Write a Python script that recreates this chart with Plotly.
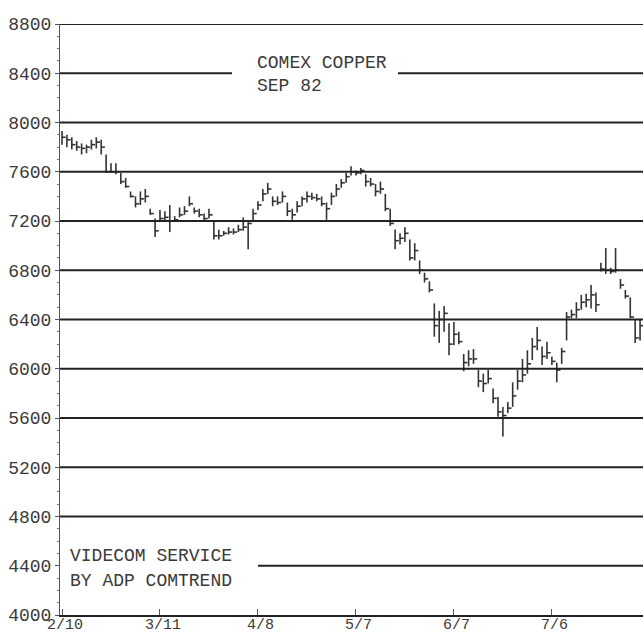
import plotly.graph_objects as go

# ---- data (daily high / low / close, COMEX copper Sep 82) ----
HIGH = [7930, 7900, 7880, 7850, 7830, 7820, 7860, 7880, 7860, 7740,
        7670, 7670, 7590, 7550, 7440, 7400, 7440, 7460, 7300, 7220,
        7290, 7280, 7330, 7240, 7310, 7320, 7400, 7310, 7300, 7260,
        7300, 7200, 7130, 7120, 7150, 7140, 7170, 7230, 7190, 7300,
        7360, 7460, 7510, 7400, 7400, 7440, 7350, 7300, 7360, 7400,
        7440, 7430, 7420, 7400, 7350, 7430, 7500, 7540, 7590, 7645,
        7610, 7630, 7580, 7550, 7500, 7520, 7420, 7300, 7130, 7100,
        7150, 7050, 7020, 6880, 6780, 6710, 6530, 6470, 6510, 6370,
        6380, 6300, 6120, 6150, 6160, 5990, 5960, 5990, 5840, 5770,
        5690, 5730, 5890, 5990, 6080, 6150, 6250, 6340, 6180, 6220,
        6100, 6050, 6170, 6460, 6480, 6540, 6600, 6610, 6680, 6620,
        6860, 6980, 6820, 6980, 6730, 6640, 6580, 6400, 6400]
LOW = [7820, 7800, 7780, 7770, 7740, 7750, 7780, 7790, 7740, 7590,
       7590, 7580, 7500, 7470, 7390, 7310, 7330, 7350, 7250, 7070,
       7200, 7200, 7110, 7200, 7230, 7250, 7320, 7260, 7230, 7200,
       7220, 7050, 7050, 7080, 7090, 7090, 7110, 7120, 6970, 7200,
       7290, 7360, 7420, 7320, 7330, 7350, 7240, 7210, 7270, 7320,
       7350, 7370, 7360, 7320, 7210, 7330, 7400, 7470, 7510, 7570,
       7570, 7580, 7480, 7480, 7400, 7420, 7280, 7160, 6970, 7010,
       7030, 6880, 6880, 6770, 6700, 6620, 6260, 6210, 6300, 6110,
       6190, 6200, 5980, 6020, 6040, 5850, 5810, 5880, 5720, 5610,
       5450, 5640, 5690, 5830, 5890, 5960, 6070, 6150, 6030, 6080,
       6030, 5890, 6040, 6230, 6410, 6410, 6480, 6500, 6490, 6460,
       6790, 6770, 6770, 6780, 6650, 6570, 6410, 6210, 6230]
CLOSE = [7880, 7860, 7820, 7800, 7790, 7800, 7820, 7840, 7800, 7600,
         7600, 7600, 7520, 7480, 7400, 7340, 7380, 7400, 7260, 7120,
         7220, 7230, 7200, 7210, 7250, 7280, 7340, 7280, 7250, 7220,
         7250, 7080, 7080, 7100, 7110, 7110, 7130, 7150, 7180, 7260,
         7330, 7420, 7460, 7360, 7350, 7400, 7280, 7250, 7320, 7380,
         7400, 7390, 7380, 7340, 7300, 7400, 7460, 7510, 7560, 7600,
         7590, 7610, 7520, 7500, 7440, 7460, 7300, 7180, 7040, 7060,
         7100, 6900, 6960, 6800, 6730, 6640, 6350, 6400, 6450, 6200,
         6280, 6220, 6050, 6080, 6080, 5900, 5880, 5920, 5760, 5650,
         5620, 5680, 5780, 5900, 5950, 6040, 6180, 6230, 6100, 6130,
         6060, 5990, 6140, 6420, 6440, 6480, 6540, 6560, 6600, 6520,
         6810, 6800, 6790, 6800, 6680, 6590, 6420, 6250, 6350]

DATE_TICK_POS = [0, 20, 40, 60, 80, 100]
DATE_TICK_TEXT = ["2/10", "3/11", "4/8", "5/7", "6/7", "7/6"]
PRICE_TICKS = [4000, 4400, 4800, 5200, 5600, 6000, 6400, 6800, 7200, 7600, 8000, 8400, 8800]
TITLE_LINES = ["COMEX COPPER", "SEP 82"]
CREDIT_LINES = ["VIDECOM SERVICE", "BY ADP COMTREND"]

FONT = "Liberation Mono, DejaVu Sans Mono, monospace"
INK = "#3a3a3a"

# ---- build bar segments (vertical high-low, close tick on the right) ----
xs, ys = [], []
for i, (h, l, c) in enumerate(zip(HIGH, LOW, CLOSE)):
    xs += [i, i, None, i, i + 0.75, None]
    ys += [l, h, None, c, c, None]

fig = go.Figure()
fig.add_trace(go.Scatter(x=xs, y=ys, mode="lines",
                         line=dict(color="#333", width=1.6),
                         hoverinfo="skip", showlegend=False))

# ---- horizontal grid lines (two are interrupted by text) ----
W = 583.0
shapes = []
for v in PRICE_TICKS[1:]:
    if v == 8400:
        segs = [(0, (232 - 60) / W), ((398 - 60) / W, 1)]
    elif v == 4400:
        segs = [((258 - 60) / W, 1)]
    else:
        segs = [(0, 1)]
    for a, b in segs:
        shapes.append(dict(type="line", xref="paper", yref="y", x0=a, x1=b,
                           y0=v, y1=v, line=dict(color="#222", width=2)))

annotations = [
    dict(xref="paper", yref="paper", x=(255 - 60) / W, y=1 - (63 - 24) / 591.0,
         text=TITLE_LINES[0], showarrow=False, xanchor="left", yanchor="middle",
         font=dict(family=FONT, size=18, color=INK)),
    dict(xref="paper", yref="paper", x=(255 - 60) / W, y=1 - (86 - 24) / 591.0,
         text=TITLE_LINES[1], showarrow=False, xanchor="left", yanchor="middle",
         font=dict(family=FONT, size=18, color=INK)),
    dict(xref="paper", yref="paper", x=(68 - 60) / W, y=1 - (556 - 24) / 591.0,
         text=CREDIT_LINES[0], showarrow=False, xanchor="left", yanchor="middle",
         font=dict(family=FONT, size=18, color=INK)),
    dict(xref="paper", yref="paper", x=(68 - 60) / W, y=1 - (581 - 24) / 591.0,
         text=CREDIT_LINES[1], showarrow=False, xanchor="left", yanchor="middle",
         font=dict(family=FONT, size=18, color=INK)),
]
# date labels placed just under the axis so they stay inside the page
for pos, txt in zip(DATE_TICK_POS, DATE_TICK_TEXT):
    annotations.append(dict(xref="x", yref="paper", x=pos, y=0, yshift=-1,
                            text=txt, showarrow=False, xanchor="center", yanchor="top",
                            borderpad=0, xshift=3,
                            font=dict(family=FONT, size=15, color=INK)))

fig.update_layout(
    width=643, height=635,
    margin=dict(l=60, r=0, t=24, b=20, autoexpand=False),
    paper_bgcolor="white", plot_bgcolor="white",
    shapes=shapes, annotations=annotations,
    xaxis=dict(range=[-0.41, 118.6], tickmode="array", automargin=False,
               tickvals=DATE_TICK_POS, showticklabels=False,
               showgrid=False, zeroline=False, showline=True,
               linecolor="#222", linewidth=2,
               ticks="inside", ticklen=6, tickcolor="#555", tickwidth=1),
    yaxis=dict(range=[4000, 8800], tickmode="array", automargin=False,
               tickvals=PRICE_TICKS, ticktext=[str(v) for v in PRICE_TICKS],
               showgrid=False, zeroline=False, showline=True,
               linecolor="#555", linewidth=1,
               ticks="outside", ticklen=4, tickcolor="#555", tickwidth=1,
               minor=dict(dtick=100, ticks="outside", ticklen=2, tickcolor="#777"),
               tickfont=dict(family=FONT, size=18, color=INK)),
)

fig.write_html("out.html", config={"displayModeBar": False})

# remove the default page margin so the figure sits at the window's top-left corner
with open("out.html", "r", encoding="utf-8") as f:
    html = f.read()
html = html.replace("<head>", "<head><style>html,body{margin:0;padding:0;overflow:hidden;}</style>", 1)
with open("out.html", "w", encoding="utf-8") as f:
    f.write(html)
